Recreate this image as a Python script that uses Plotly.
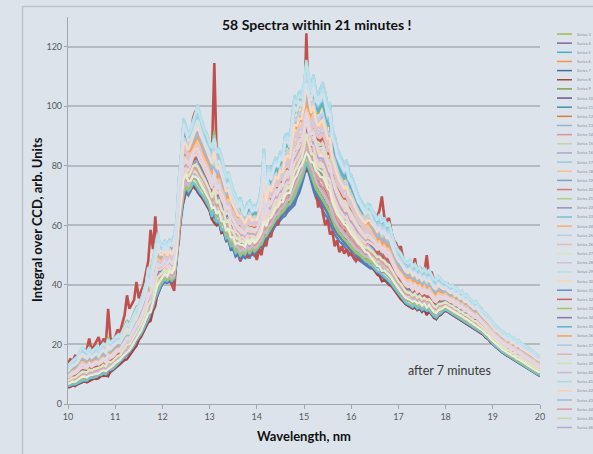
import plotly.graph_objects as go

# Wavelength sampling grid, 10 nm to 20 nm in 0.05 nm steps
wavelength_nm = [round(10.0 + 0.05 * i, 2) for i in range(201)]

# Upper edge of the bundle of spectra (arb. units)
band_high = [
    12.5, 13.8, 14.6, 15.2, 16.0, 17.8, 19.0, 18.2, 17.5, 18.9, 17.6, 18.4, 19.2, 18.1, 19.5, 20.3, 19.4, 21.2, 20.6, 21.5,
    22.4, 23.1, 22.6, 24.5, 25.8, 27.0, 26.2, 28.4, 30.1, 31.5, 33.2, 35.0, 37.8, 40.5, 45.8, 43.0, 48.5, 52.0, 57.5, 54.0,
    53.5, 55.2, 53.0, 55.6, 54.2, 56.5, 62.0, 76.0, 85.0, 96.0, 93.5, 91.0, 92.5, 95.0, 98.0, 100.5, 97.0, 94.5, 92.0, 90.5,
    88.0, 86.5, 88.5, 85.0, 86.0, 83.5, 80.0, 76.5, 78.0, 74.5, 72.0, 70.5, 68.0, 69.5, 66.5, 65.0, 67.5, 68.5, 66.0, 67.0,
    66.5, 69.0, 74.0, 86.0, 72.5, 80.3, 77.0, 80.5, 83.0, 81.5, 85.0, 84.0, 90.5, 91.0, 89.0, 97.0, 104.0, 102.5, 105.5, 104.0,
    108.0, 115.0, 110.0, 106.0, 111.0, 105.5, 104.0, 106.0, 108.0, 104.5, 100.0, 101.0, 92.0, 90.0, 86.0, 84.0, 82.0, 80.5, 82.0, 78.0,
    77.0, 74.5, 72.0, 70.0, 68.6, 67.0, 66.0, 67.5, 67.0, 65.0, 64.0, 62.0, 63.5, 61.0, 62.5, 60.0, 61.0, 58.0, 55.0, 53.0,
    51.5, 50.6, 49.0, 48.0, 47.5, 48.4, 46.5, 47.0, 45.5, 46.0, 44.5, 45.5, 44.0, 45.0, 43.5, 42.0, 41.7, 43.0, 42.0, 41.0,
    41.0, 40.0, 39.5, 40.0, 38.5, 39.0, 37.5, 38.0, 36.5, 37.0, 35.6, 35.0, 34.0, 34.5, 33.0, 32.0, 31.0, 30.5, 29.5, 28.5,
    27.5, 26.5, 26.0, 25.0, 24.5, 24.0, 23.0, 23.5, 22.0, 22.5, 21.0, 21.5, 20.5, 20.0, 19.5, 19.0, 18.5, 18.0, 17.0, 16.5,
    16.0,
]

# Lower edge of the bundle of spectra (arb. units)
band_low = [
    5.4, 5.6, 6.0, 5.8, 6.3, 6.6, 6.9, 7.2, 7.0, 7.6, 8.0, 8.3, 8.2, 8.8, 9.0, 9.4, 9.2, 10.0, 10.6, 11.0,
    11.8, 12.5, 13.2, 14.0, 14.8, 15.6, 16.5, 17.5, 18.6, 20.0, 21.3, 22.5, 24.0, 25.5, 27.0, 29.0, 31.0, 33.5, 36.0, 38.5,
    40.0, 41.0, 40.5, 41.5, 41.0, 42.0, 48.0, 58.0, 64.0, 70.0, 72.0, 70.5, 71.0, 72.5, 71.5, 70.0, 69.0, 68.0, 67.0, 65.5,
    64.0, 61.0, 62.5, 59.0, 60.0, 56.5, 57.0, 54.0, 54.5, 51.5, 52.0, 49.5, 50.5, 49.0, 50.0, 49.5, 51.5, 49.5, 52.0, 50.5,
    51.5, 52.5, 53.0, 54.5, 56.0, 57.0, 58.5, 59.5, 61.0, 62.0, 63.0, 63.5, 64.5, 65.5, 66.0, 67.0, 68.0, 70.0, 72.0, 74.0,
    76.0, 78.0, 77.0, 75.0, 73.0, 71.0, 70.0, 68.0, 67.0, 66.0, 64.5, 63.0, 61.0, 59.0, 57.5, 56.5, 55.5, 54.5, 53.5, 52.5,
    51.5, 51.0, 50.0, 49.5, 49.0, 48.0, 47.0, 46.5, 45.5, 45.0, 44.0, 43.0, 42.5, 41.5, 41.0, 40.5, 39.5, 39.0, 38.0, 37.0,
    36.0, 35.0, 34.0, 33.0, 32.5, 32.0, 31.5, 32.0, 31.0, 31.5, 30.5, 31.0, 30.0, 30.5, 29.5, 28.5, 28.0, 29.0, 29.5, 30.5,
    31.0, 30.5, 30.0, 29.5, 29.0, 28.5, 28.0, 27.5, 27.0, 26.5, 26.0, 25.5, 25.0, 24.5, 24.0, 23.5, 23.0, 22.0, 21.5, 20.5,
    19.8, 19.0, 18.5, 17.8, 17.0, 16.5, 16.0, 15.5, 15.0, 14.5, 14.0, 13.5, 13.0, 12.5, 12.0, 11.5, 11.0, 10.5, 10.0, 9.6,
    9.2,
]

# Second spectrum of the series: strongest contrast, with the narrow lines at 13.1 nm and 15.05 nm
red_spectrum = [
    13.8, 15.0, 14.5, 16.2, 16.0, 17.0, 17.5, 16.8, 18.5, 22.0, 18.0, 19.5, 20.5, 22.5, 19.0, 22.0, 19.5, 32.0, 22.0, 21.5,
    22.5, 25.0, 24.0, 27.0, 30.0, 36.5, 32.0, 33.5, 35.0, 41.0, 35.5, 38.0, 40.0, 44.0, 48.0, 58.5, 52.0, 63.0, 51.0, 50.0,
    49.0, 47.5, 48.5, 44.0, 40.0, 38.0, 50.0, 55.0, 66.0, 68.0, 72.0, 76.0, 88.0, 96.0, 98.5, 95.0, 93.0, 94.0, 90.0, 88.0,
    86.0, 84.0, 114.5, 83.0, 80.0, 82.0, 76.0, 72.0, 70.0, 65.0, 62.0, 60.0, 57.0, 48.0, 54.0, 52.0, 49.0, 53.0, 50.0, 51.0,
    48.4, 52.0, 50.0, 55.0, 53.0, 58.0, 56.0, 60.0, 62.0, 60.0, 63.0, 66.0, 64.0, 68.0, 70.0, 72.0, 75.0, 80.0, 78.0, 84.0,
    95.0, 124.5, 100.0, 88.0, 80.0, 72.0, 66.0, 70.0, 64.0, 60.0, 62.0, 57.0, 58.0, 53.0, 55.0, 51.0, 53.0, 50.5, 52.0, 50.0,
    50.6, 49.0, 48.0, 49.5, 48.0, 50.0, 52.0, 54.0, 57.0, 60.0, 61.0, 63.0, 65.0, 69.7, 63.0, 61.0, 62.5, 58.0, 55.0, 54.0,
    52.0, 53.0, 49.0, 47.0, 46.0, 48.0, 45.0, 49.0, 44.0, 46.0, 45.0, 44.0, 50.0, 43.0, 44.5, 42.0, 41.0, 42.0, 41.5, 40.0,
    39.0, 40.0, 38.5, 39.0, 37.5, 38.0, 36.0, 37.0, 35.0, 35.5, 34.0, 34.5, 33.0, 33.5, 32.0, 32.0, 30.5, 30.0, 29.0, 28.0,
    26.5, 25.5, 25.0, 24.0, 23.5, 22.5, 22.0, 22.5, 21.0, 21.0, 20.0, 20.0, 19.0, 18.5, 18.0, 17.5, 17.0, 16.5, 16.0, 15.5,
    15.0,
]

# Position of each of the 58 spectra inside the bundle (0 = lower edge, 1 = upper edge);
# spectrum 2 is given explicitly above
series_level = [
    0.00, None, 0.90, 0.02, 0.97, 0.93,
    0.15, 0.08, 0.30, 0.12, 0.04, 0.86,
    0.70, 0.22, 0.40, 0.26, 0.92, 0.50,
    0.34, 0.18, 0.14, 0.44, 0.06, 0.82,
    0.62, 0.36, 0.28, 0.66, 0.95, 0.56,
    0.38, 0.48, 0.10, 0.20, 0.88, 0.68,
    0.78, 0.32, 0.52, 0.16, 1.00, 0.46,
    0.72, 0.24, 0.84, 0.42, 0.90, 0.62,
    0.80, 0.54, 0.30, 0.58, 0.96, 0.74,
    0.86, 0.40, 0.20, 0.50,
]

# How strongly each spectrum follows the line structure of spectrum 2
series_contrast = [
    0.10, None, 0.15, 0.05, -0.05, 0.08,
    0.08, -0.10, 0.10, 0.12, 0.05, -0.08,
    -0.05, 0.15, -0.12, 0.06, 0.10, -0.06,
    0.12, -0.04, 0.08, -0.10, 0.04, 0.14,
    -0.08, 0.10, -0.06, 0.12, -0.10, 0.05,
    0.06, -0.12, 0.10, -0.05, 0.08, -0.08,
    0.12, -0.06, 0.04, 0.10, 0.02, 0.06,
    -0.04, 0.10, -0.10, 0.08, 0.02, -0.08,
    0.10, -0.06, 0.06, -0.10, 0.04, 0.08,
    -0.08, 0.12, -0.04, 0.06,
]

series_names = [f"Series {k}" for k in range(1, 59)]

y_ticks = [0, 20, 40, 60, 80, 100, 120]
x_ticks = [10, 11, 12, 13, 14, 15, 16, 17, 18, 19, 20]

# Office-style colour cycle and the shade used for each round of six series
base_colors = ["#4F81BD", "#C0504D", "#9BBB59", "#8064A2", "#4BACC6", "#F79646"]
group_tint = [0.0, -0.15, 0.4, 0.25, 0.6, 0.1, 0.55, 0.45, 0.65, 0.75]


def tint(hex_color, f):
    c = [int(hex_color[i:i + 2], 16) for i in (1, 3, 5)]
    if f >= 0:
        c = [round(v + (255 - v) * f) for v in c]
    else:
        c = [round(v * (1 + f)) for v in c]
    return "#{:02X}{:02X}{:02X}".format(*c)


colors = []
for k in range(58):
    if series_level[k] is None:
        colors.append(base_colors[k % 6])
    else:
        colors.append(tint(base_colors[k % 6], group_tint[k // 6]))

BG = "#dce3ea"
GRID = "#b5bac0"
AXIS = "#a3a8ad"
FONT = "Lato"

fig = go.Figure()
for k in range(58):
    if series_level[k] is None:
        yv = red_spectrum
        width = 2.6
    else:
        a = series_level[k]
        b = series_contrast[k]
        yv = [lo + a * (hi - lo) + b * (r - 0.5 * (lo + hi))
              for lo, hi, r in zip(band_low, band_high, red_spectrum)]
        width = 2.3
    fig.add_trace(go.Scatter(
        x=wavelength_nm, y=yv, mode="lines", name=series_names[k],
        line=dict(color=colors[k], width=width), showlegend=False, hoverinfo="skip",
    ))

# plot area in pixels: x 68..540, y 17..404
PL, PR, PT, PB = 68, 540, 17, 404


def px_x(x):
    return (x - PL) / (PR - PL)


def px_y(y):
    return (PB - y) / (PB - PT)


shapes = []
annotations = []

# outer chart frame
shapes.append(dict(type="line", xref="paper", yref="paper", x0=px_x(22), x1=px_x(600),
                   y0=px_y(6.5), y1=px_y(6.5), line=dict(color="#bcc2c8", width=1.5)))
shapes.append(dict(type="line", xref="paper", yref="paper", x0=px_x(22.5), x1=px_x(22.5),
                   y0=px_y(6.5), y1=px_y(460), line=dict(color="#bcc2c8", width=1.5)))

# compact legend on the right: series 3 .. 46
for j, k in enumerate(range(2, 46)):
    yy = 34 + j * 9.15
    shapes.append(dict(type="line", xref="paper", yref="paper", x0=px_x(557), x1=px_x(572),
                       y0=px_y(yy), y1=px_y(yy), line=dict(color=colors[k], width=1.5)))
    annotations.append(dict(xref="paper", yref="paper", x=px_x(575), y=px_y(yy), text=series_names[k],
                            showarrow=False, xanchor="left", yanchor="middle",
                            font=dict(family=FONT, size=4, color="#8a8f94")))


def label(x, y, text, size, color="#111111", angle=0):
    annotations.append(dict(xref="paper", yref="paper", x=px_x(x), y=px_y(y), text=text,
                            showarrow=False, xanchor="center", yanchor="middle", textangle=angle,
                            font=dict(family=FONT, size=size, color=color)))


label(317, 25, "<b>58 Spectra within 21 minutes !</b>", 14)
label(304, 436, "<b>Wavelength, nm</b>", 13)
label(37, 220, "<b>Integral over CCD, arb. Units</b>", 13, angle=-90)
label(449, 370, "after 7 minutes", 12.5, color="#3a3a3a")

fig.update_layout(
    width=593, height=454,
    margin=dict(l=PL, r=593 - PR, t=PT, b=454 - PB, pad=0),
    paper_bgcolor=BG, plot_bgcolor=BG,
    showlegend=False,
    shapes=shapes, annotations=annotations,
    xaxis=dict(range=[10, 20], tickvals=x_ticks, showgrid=False, zeroline=False,
               showline=True, linecolor=AXIS, linewidth=1.2, ticks="outside", ticklen=4,
               tickcolor=AXIS, tickfont=dict(family=FONT, size=9, color="#5a5a5a")),
    yaxis=dict(range=[0, 130], tickvals=y_ticks, showgrid=True, gridcolor=GRID, gridwidth=1.5,
               zeroline=False, showline=True, linecolor=AXIS, linewidth=1.2, ticks="outside",
               ticklen=3, tickcolor=AXIS, tickfont=dict(family=FONT, size=9, color="#5a5a5a")),
)

fig.write_html("out.html")
